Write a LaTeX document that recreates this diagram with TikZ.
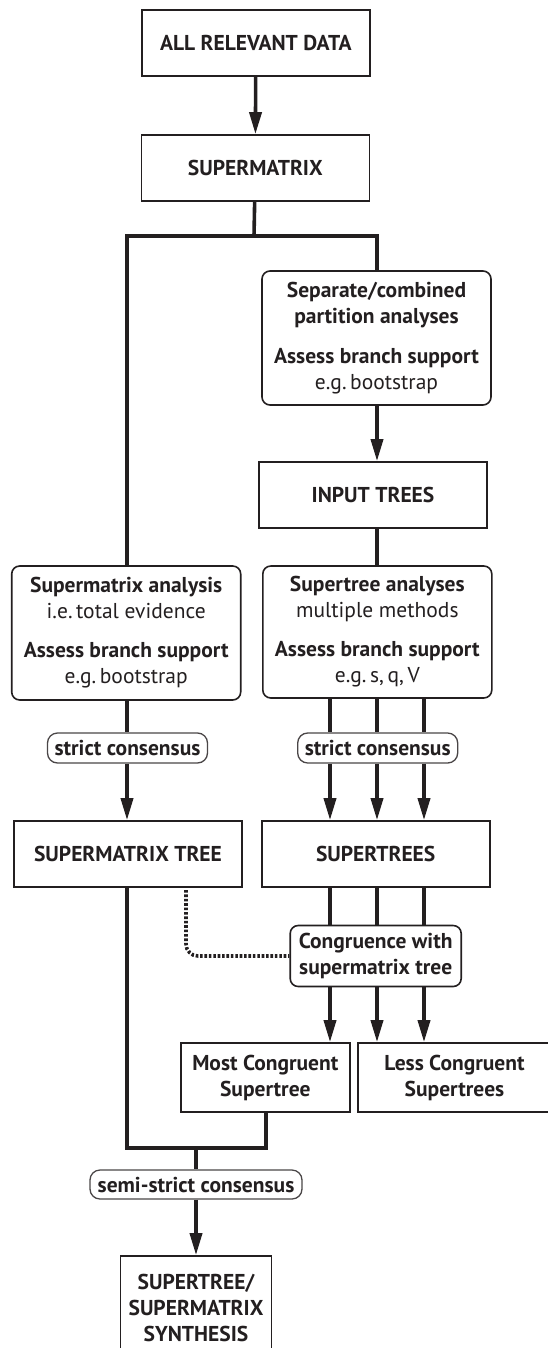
\documentclass[tikz,border=0pt]{standalone}
\usepackage{fontspec}
\setmainfont{PT Sans}
\usetikzlibrary{arrows.meta,calc}
\definecolor{ink}{HTML}{231F20}
\definecolor{pillrim}{HTML}{4A4647}
\begin{document}
\begin{tikzpicture}[x=1pt,y=-1pt,
  font=\fontsize{21.5}{26}\selectfont\bfseries,
  every node/.style={text=ink, inner sep=0pt, align=center},
  box/.style={draw=ink, line width=1.6pt},
  rbox/.style={box, rounded corners=8pt},
  pill/.style={draw=pillrim, line width=1.3pt, rounded corners=10pt},
  conn/.style={draw=ink, line width=3.6pt, line join=miter},
  arr/.style={conn, -{Triangle[length=22pt,width=12pt]}},
  dots/.style={draw=ink, line width=3.6pt, dash pattern=on 2.6pt off 1.8pt, rounded corners=12pt}
]
\useasboundingbox (0,0) rectangle (548,1348);

% boxes and labels
\node[box, minimum width=228pt, minimum height=66pt] (all) at (255.8,43.3) {ALL RELEVANT DATA};
\node[box, minimum width=228pt, minimum height=66pt] (smx) at (255.3,168) {SUPERMATRIX};
\node[rbox, minimum width=229pt, minimum height=134pt] (sep) at (376.5,338)
  {Separate/combined\\partition analyses\\[14pt]Assess branch support\\{\mdseries e.g.\,bootstrap}};
\node[box, minimum width=228pt, minimum height=66pt] (input) at (373,495) {INPUT TREES};
\node[rbox, minimum width=229pt, minimum height=134pt] (smxan) at (126.2,633)
  {Supermatrix analysis\\{\mdseries i.e.\,total evidence}\\[13pt]Assess branch support\\{\mdseries e.g.\,bootstrap}};
\node[rbox, minimum width=229pt, minimum height=132pt] (stan) at (377.3,632)
  {Supertree analyses\\{\mdseries multiple methods}\\[13pt]Assess branch support\\{\mdseries e.g.\,s,\,q,\,V}};
\node[pill, minimum width=160pt, minimum height=30pt] (sc1) at (127.5,748) {strict consensus};
\node[pill, minimum width=160pt, minimum height=30pt] (sc2) at (377.7,748) {strict consensus};
\node[box, minimum width=228pt, minimum height=66pt] (smxtree) at (128,854) {SUPERMATRIX TREE};
\node[box, minimum width=228pt, minimum height=66pt] (strees) at (375.7,854) {SUPERTREES};
\node[rbox, minimum width=171pt, minimum height=61pt] (cong) at (375.7,956)
  {Congruence with\\supermatrix tree};
\node[box, minimum width=169pt, minimum height=69pt] (most) at (265.3,1077.5)
  {Most Congruent\\Supertree};
\node[box, minimum width=193pt, minimum height=69pt] (less) at (454.5,1077.5)
  {Less Congruent\\Supertrees};
\node[pill, minimum width=212pt, minimum height=29pt] (semi) at (196,1184.5) {semi-strict consensus};
\node[box, minimum width=151pt, minimum height=104pt] (synth) at (196,1308)
  {SUPERTREE/\\SUPERMATRIX\\SYNTHESIS};

% helper coordinates for the branch points
\coordinate (split) at (254,236);
\coordinate (join) at (196,1148);
\coordinate (xa) at (330,0);
\coordinate (xb) at (377,0);
\coordinate (xc) at (424,0);
\coordinate (dotstart) at (186,890);

% connectors
\draw[arr] (all) -- (smx);
\draw[conn] (smx) -- (split);
\draw[conn] (smxan.north -| 127,0) |- (split) -| (sep.north -| xb);
\draw[arr] (sep.south -| xb) -- (input.north -| xb);
\draw[conn] (input.south -| xb) -- (stan.north -| xb);

\draw[conn] (smxan.south -| 127,0) -- (sc1.north -| 127,0);
\draw[arr] (sc1.south -| 127,0) -- (smxtree.north -| 127,0);

\foreach \c in {xa,xb,xc}{
  \draw[conn] (stan.south -| \c) -- (sc2.north -| \c);
  \draw[arr] (sc2.south -| \c) -- (strees.north -| \c);
  \draw[conn] (strees.south -| \c) -- (cong.north -| \c);
}
\draw[arr] (cong.south -| xa) -- (most.north -| xa);
\draw[arr] (cong.south -| xb) -- (less.north -| xb);
\draw[arr] (cong.south -| xc) -- (less.north -| xc);

\draw[dots] (dotstart) |- (cong.west);

\draw[conn] (smxtree.south -| 127,0) |- (join) -| (most.south -| 265.7,0);
\draw[conn] (join) -- (semi.north -| join);
\draw[arr] (semi.south -| join) -- (synth.north -| join);
\end{tikzpicture}
\end{document}
